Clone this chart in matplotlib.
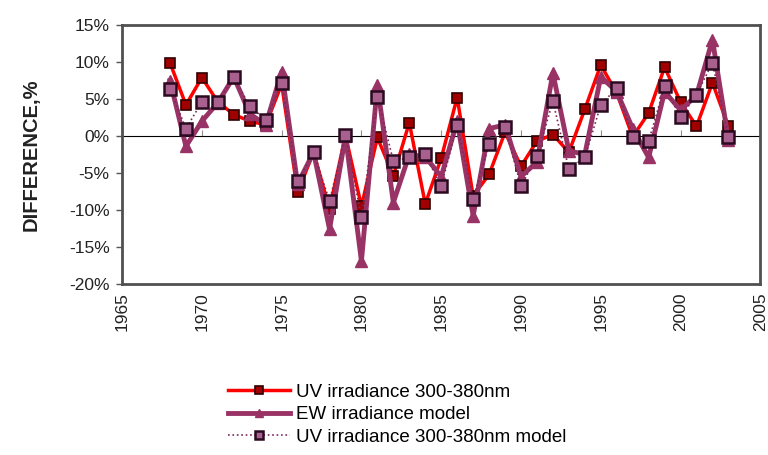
import matplotlib
matplotlib.use("Agg")
import matplotlib.pyplot as plt
import numpy as np

years = list(range(1968, 2004))

uv_obs = [9.9, 4.2, 7.9, 4.6, 2.9, 2.0, 1.5, 7.0, -7.6, -2.2, -9.9, 0.1, -9.5, -0.2,
          -5.4, 1.8, -9.2, -3.0, 5.2, -8.1, -5.2, 0.5, -4.1, -0.7, 0.2, -2.2, 3.6, 9.6,
          5.8, -0.1, 3.1, 9.3, 4.6, 1.3, 7.2, 1.3]

ew_model = [7.5, -1.4, 2.0, 4.5, 8.0, 3.0, 1.5, 8.7, -6.5, -2.2, -12.6, 0.0, -16.9, 6.9,
            -9.0, -2.5, -2.8, -5.5, 2.0, -10.8, 1.0, 1.5, -5.5, -3.5, 8.5, -2.0, -2.5, 8.0,
            6.0, 1.0, -2.9, 6.0, 3.5, 5.5, 13.0, -0.5]

uv_model = [6.4, 1.0, 4.6, 4.6, 8.0, 4.0, 2.2, 7.2, -6.1, -2.2, -8.8, 0.1, -11.0, 5.3,
            -3.4, -2.9, -2.5, -6.8, 1.5, -8.5, -1.1, 1.2, -6.8, -2.7, 4.7, -4.5, -2.9, 4.2,
            6.5, -0.1, -0.7, 6.7, 2.5, 5.6, 9.9, -0.2]

labels = ["UV irradiance 300-380nm", "EW irradiance model", "UV irradiance 300-380nm model"]

yticks = list(range(-20, 16, 5))
xticks = list(range(1965, 2006, 5))

plt.rcParams['font.family'] = ['Liberation Sans', 'DejaVu Sans']

fig = plt.figure(figsize=(7.68, 4.55), dpi=100)
ax = fig.add_axes([0.159, 0.376, 0.831, 0.569])

ax.plot(years, uv_obs, color='#ff0000', lw=2.5, marker='s', ms=6.5,
        mfc='#a00000', mec='#300000', mew=1.2, label=labels[0], zorder=3)
ax.plot(years, ew_model, color='#993366', lw=3.5, marker='^', ms=9,
        mfc='#993366', mec='#993366', label=labels[1], zorder=4)
ax.plot(years, uv_model, color='#7a2a5a', lw=1.2, ls=':', marker='s', ms=8.5,
        mfc='#a8608f', mec='#2a0a20', mew=1.8, label=labels[2], zorder=5)

ax.set_xlim(1965, 2005)
ax.set_ylim(-20, 15)
ax.set_yticks(yticks)
ax.set_yticklabels([f"{v}%" for v in yticks])
ax.set_xticks(xticks)
ax.set_xticklabels([str(v) for v in xticks], rotation=90)
ax.tick_params(axis='x', length=0, pad=6, labelsize=12.5)
ax.tick_params(axis='y', length=4, width=1, pad=5, labelsize=12.5, colors='#555555')
for t in ax.get_yticklabels() + ax.get_xticklabels():
    t.set_color('#222222')

for s in ax.spines.values():
    s.set_color('#505050')
    s.set_linewidth(2)

# zero-line category axis with its own ticks
sec = ax.secondary_xaxis(20 / 35)
sec.set_xticks(xticks)
sec.set_xticklabels([])
sec.tick_params(length=4, width=0.8, colors='#909090', direction='out')
sec.spines['bottom'].set_color('#909090')
sec.spines['bottom'].set_linewidth(1)

ax.set_ylabel("DIFFERENCE,%", fontsize=14.5, fontweight='bold', color='#222222', labelpad=20)

leg = fig.legend(loc='upper left', bbox_to_anchor=(0.285, 0.178), frameon=False,
                 fontsize=13.5, handlelength=3.3, handletextpad=0.3, labelspacing=0.3,
                 borderpad=0)
for h in leg.legend_handles:
    h.set_markersize(6)

fig.savefig("out.png", dpi=100)
